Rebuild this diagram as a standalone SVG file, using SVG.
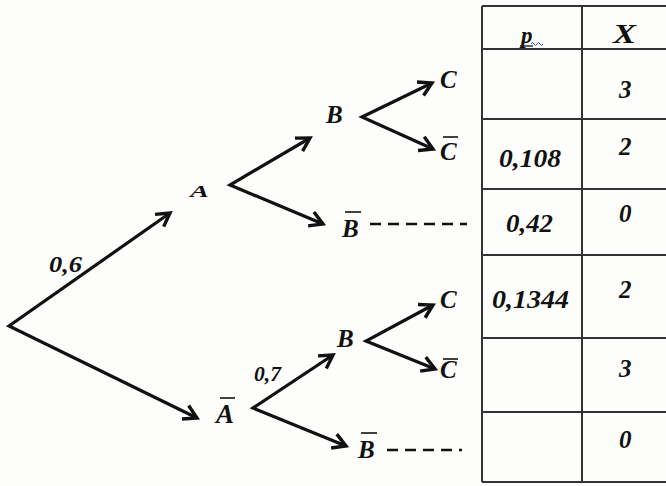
<svg xmlns="http://www.w3.org/2000/svg" width="666" height="486" viewBox="0 0 666 486">
<style>
.t{font-family:"Liberation Serif","Times New Roman",serif;font-weight:bold;font-style:italic;fill:#111}
.n{font-size:25px}
.v{font-size:25px}
.c{fill:none;stroke:#111;stroke-width:3.2;stroke-linejoin:miter;marker-start:url(#ah);marker-end:url(#ah)}
.bar{stroke:#111;stroke-width:1.6}
.grid{stroke:#333;stroke-width:2;fill:none}
.dash{stroke:#111;stroke-width:2.6;stroke-dasharray:11 7}
</style>
<defs>
<marker id="ah" markerUnits="userSpaceOnUse" markerWidth="24" markerHeight="24" viewBox="-20 -12 24 24" refX="0" refY="0" orient="auto-start-reverse">
<path d="M-13,-7.5 L0,0 L-13,7.5" fill="none" stroke="#111" stroke-width="3.4" stroke-linejoin="miter" stroke-linecap="butt"/>
</marker>
</defs>
<rect width="666" height="486" fill="#fdfdfb"/>

<g id="table">
<path class="grid" d="M482,6 V482 M582,6 V482 M482,6 H666 M482,49 H666 M482,119 H666 M482,189 H666 M482,255 H666 M482,338 H666 M482,412 H666 M482,482 H666"/>
<g id="header">
<text class="t" x="521" y="43" font-size="23">p</text>
<line x1="520" y1="46" x2="533" y2="46" stroke="#222" stroke-width="1.4"/>
<path d="M531,44 q1.5,-3 3,0 t3,0 t3,0 t3,0" fill="none" stroke="#3344cc" stroke-width="1"/>
<text class="t" x="613" y="43" font-size="28" textLength="23" lengthAdjust="spacingAndGlyphs">X</text>
</g>
<g id="row1"><text class="t v" x="619" y="98">3</text></g>
<g id="row2"><text class="t v" x="499" y="167" textLength="62" lengthAdjust="spacingAndGlyphs">0,108</text><text class="t v" x="619" y="155">2</text></g>
<g id="row3"><text class="t v" x="506" y="232" textLength="47" lengthAdjust="spacingAndGlyphs">0,42</text><text class="t v" x="619" y="222">0</text></g>
<g id="row4"><text class="t v" x="492" y="308" textLength="77" lengthAdjust="spacingAndGlyphs">0,1344</text><text class="t v" x="619" y="298">2</text></g>
<g id="row5"><text class="t v" x="619" y="377">3</text></g>
<g id="row6"><text class="t v" x="619" y="448">0</text></g>
</g>

<g id="connectors">
<path class="c" d="M170,213 L9,326 L197,418"/>
<path class="c" d="M310,138 L230,185 L323,224"/>
<path class="c" d="M432,83 L362,117 L433,149"/>
<path class="c" d="M333,355 L253,408 L346,446"/>
<path class="c" d="M433,305 L366,341 L435,369"/>
<line class="dash" x1="370" y1="224" x2="467" y2="224"/>
<line class="dash" x1="387" y1="450" x2="462" y2="450"/>
<text class="t" x="49" y="272" font-size="24" textLength="33" lengthAdjust="spacingAndGlyphs">0,6</text>
<text class="t" x="254" y="381" font-size="22" textLength="27" lengthAdjust="spacingAndGlyphs">0,7</text>
</g>

<g id="node-A"><text class="t" x="190" y="197" font-size="17" fill="#333" textLength="19" lengthAdjust="spacingAndGlyphs">A</text></g>
<g id="node-Abar"><text class="t" x="216" y="423" font-size="27">A</text><line class="bar" x1="220" y1="398" x2="235" y2="398"/></g>
<g id="node-B1"><text class="t n" x="326" y="123">B</text></g>
<g id="node-Bbar1"><text class="t n" x="342" y="237">B</text><line class="bar" x1="345" y1="212" x2="361" y2="212"/></g>
<g id="node-C1"><text class="t n" x="440" y="88">C</text></g>
<g id="node-Cbar1"><text class="t n" x="440" y="160">C</text><line class="bar" x1="443" y1="137" x2="458" y2="137"/></g>
<g id="node-B2"><text class="t n" x="337" y="347">B</text></g>
<g id="node-Bbar2"><text class="t n" x="358" y="458">B</text><line class="bar" x1="361" y1="433" x2="377" y2="433"/></g>
<g id="node-C2"><text class="t n" x="440" y="308">C</text></g>
<g id="node-Cbar2"><text class="t n" x="440" y="378">C</text><line class="bar" x1="443" y1="359" x2="458" y2="359"/></g>
</svg>
